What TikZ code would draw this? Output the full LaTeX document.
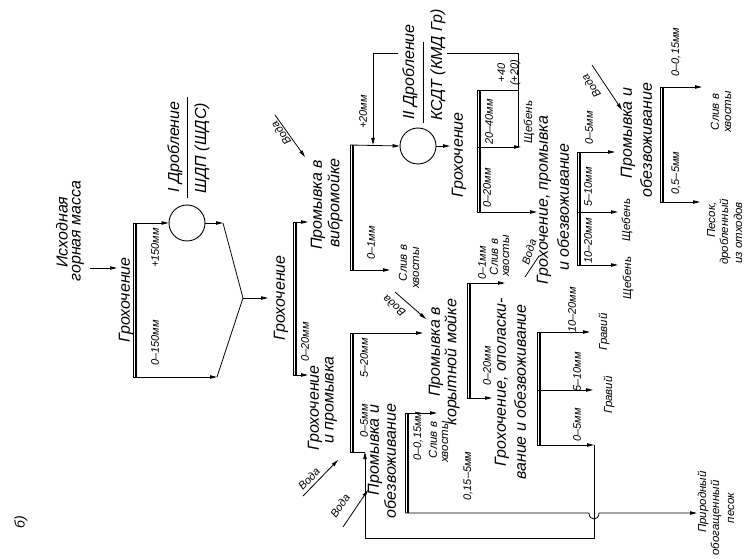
\documentclass[tikz,border=0pt]{standalone}
\usepackage{fontspec}
\setmainfont{Liberation Sans}
\usetikzlibrary{arrows.meta}
\tikzset{
  ln/.style={line width=0.8pt, line join=round},
  arr/.style={ln, -{Triangle[length=7pt,width=3.4pt]}},
  thk/.style={line width=2.2pt},
  op/.style={rotate=90, inner sep=0pt, font=\fontsize{16}{18}\selectfont\itshape},
  sz/.style={rotate=90, inner sep=0pt, font=\fontsize{11}{13}\selectfont\itshape},
  prod/.style={rotate=90, inner sep=0pt, font=\fontsize{11.5}{13}\selectfont\itshape},
  wl/.style={inner sep=0pt, font=\fontsize{11}{13}\selectfont\itshape},
  crusher/.style={circle, draw, line width=0.9pt, minimum size=36pt, inner sep=0pt},
}
\newcommand\screenline[3]{%
  \draw[ln] (#1,#2) -- (#1,#3);
  \draw[thk] (#1+3.2,#2) -- (#1+3.2,#3);}
\begin{document}
\begin{tikzpicture}[x=1pt,y=-1pt]
\useasboundingbox (0,0) rectangle (750,559);
% ---- label b)
\node[sz, font=\fontsize{14}{14}\selectfont\itshape] (lb) at (21,522) {б)};
% ---- source
\node[op] (src1) at (62,232) {Исходная};
\node[op] (src2) at (78,231) {горная масса};
\coordinate (srcA) at (90,268); \coordinate (srcB) at (117,268);
\draw[arr] (srcA) -- (srcB);
% ---- screen 1
\node[op] (g1) at (126,300) {Грохочение};
\screenline{133}{223}{377}
\coordinate (s1t) at (133,223); \coordinate (s1b) at (133,377);
\node[sz] (l150p) at (155,248) {+150мм};
\node[sz] (l150m) at (155,343) {0–150мм};
% ---- crusher I
\node[crusher] (c1) at (187,223) {};
\node[op] (d1a) at (175,147) {I Дробление};
\node[op] (d1b) at (202,148) {ШДП (ШДС)};
\coordinate (f1t) at (187,97); \coordinate (f1b) at (187,198);
\draw[ln] (f1t) -- (f1b);
\draw[arr] (s1t) -- (c1.west);
\coordinate (c1o) at (223,223); \coordinate (m1) at (243,298); \coordinate (s1o) at (217,377);
\draw[arr] (c1.east) -- (c1o);
\draw[ln] (c1o) -- (m1) -- (s1o);
\draw[arr] (s1b) -- (s1o);
\coordinate (g2in) at (268,298);
\draw[arr] (m1) -- (g2in);
% ---- screen 2
\node[op] (g2) at (281,298) {Грохочение};
\screenline{293}{222}{375}
\coordinate (s2t) at (293,222); \coordinate (s2b) at (293,375);
\coordinate (vin) at (308,222); \coordinate (gpin) at (308,375);
\draw[arr] (s2t) -- (vin);
\draw[arr] (s2b) -- (gpin);
\node[sz] (l020a) at (305,342) {0–20мм};
% ---- vibro washer
\node[op] (v1) at (318,205) {Промывка в};
\node[op] (v2) at (335,203) {вибромойке};
\coordinate (w1a) at (275,115); \coordinate (w1b) at (305,157);
\draw[arr] (w1a) -- (w1b);
\node[wl, rotate=126] (w1t) at (281,133) {Вода};
\screenline{350}{145}{270}
\coordinate (s3t) at (350,145); \coordinate (s3b) at (350,270);
\node[crusher] (c2) at (418,146) {};
\draw[arr] (s3t) -- (c2.west);
\node[sz] (l20p) at (363,112) {+20мм};
\coordinate (s3o) at (390,270);
\draw[arr] (s3b) -- (s3o);
\node[sz] (l01a) at (371,243) {0–1мм};
\node[prod] (sl1a) at (403,263) {Слив в};
\node[prod] (sl1b) at (416,268) {хвосты};
% ---- crusher II and return loop
\node[op] (d2a) at (410,72) {II Дробление};
\node[op] (d2b) at (438,65) {КСДТ (КМД Гр)};
\coordinate (f2t) at (423,42); \coordinate (f2b) at (423,123);
\draw[ln] (f2t) -- (f2b);
\coordinate (s4t) at (477,90); \coordinate (s4m) at (477,147); \coordinate (s4b) at (477,212);
\coordinate (r0) at (518,90); \coordinate (rA) at (518,147); \coordinate (rB) at (518,53);
\coordinate (rC) at (447,53); \coordinate (rD) at (398,53); \coordinate (rE) at (373,53); \coordinate (rF) at (373,145);
\draw[ln] (s4t) -- (r0);
\draw[ln] (rA) -- (rB) -- (rC);
\draw[arr] (rD) -- (rE) -- (rF);
\coordinate (g3in) at (450,146);
\draw[arr] (c2.east) -- (g3in);
% ---- screen after crusher II
\node[op] (g3) at (459,155) {Грохочение};
\screenline{477}{90}{212}
\coordinate (sh1) at (521,147);
\draw[arr] (s4m) -- (sh1);
\node[sz] (l2040) at (489,122) {20–40мм};
\node[sz] (l020b) at (487,188) {0–20мм};
\node[sz, align=center] (l40) at (509,73) {+40\\(+20)};
\node[prod] (sch1) at (529,122) {Щебень};
\coordinate (g6in) at (537,212);
\draw[arr] (s4b) -- (g6in);
% ---- screening, washing, dewatering
\node[op] (g6a) at (544,200) {Грохочение, промывка};
\node[op] (g6b) at (563,207) {и обезвоживание};
\coordinate (w6a) at (525,277); \coordinate (w6b) at (539,256);
\draw[ln] (w6a) -- (w6b);
\node[wl, rotate=72] (w6t) at (529,252) {Вода};
\screenline{577}{152}{265}
\coordinate (s6t) at (577,152); \coordinate (s6m) at (577,212); \coordinate (s6b) at (577,265);
\coordinate (p7in) at (615,152); \coordinate (sh2) at (618,212); \coordinate (sh3) at (618,265);
\draw[arr] (s6t) -- (p7in);
\draw[arr] (s6m) -- (sh2);
\draw[arr] (s6b) -- (sh3);
\node[sz] (l05a) at (589,128) {0–5мм};
\node[sz] (l510a) at (588,187) {5–10мм};
\node[sz] (l1020a) at (588,241) {10–20мм};
\node[prod] (sch2) at (627,220) {Щебень};
\node[prod] (sch3) at (628,278) {Щебень};
% ---- washing and dewatering (top right)
\node[op] (p7a) at (628,133) {Промывка и};
\node[op] (p7b) at (646,140) {обезвоживание};
\coordinate (w7a) at (592,65); \coordinate (w7b) at (622,110);
\draw[arr] (w7a) -- (w7b);
\node[wl, rotate=124] (w7t) at (591,86) {Вода};
\screenline{660}{87}{202}
\coordinate (s7t) at (660,87); \coordinate (s7b) at (660,202);
\coordinate (s7o1) at (702,87); \coordinate (s7o2) at (700,202);
\draw[arr] (s7t) -- (s7o1);
\draw[arr] (s7b) -- (s7o2);
\node[sz] (l0015b) at (676,52) {0–0,15мм};
\node[sz] (l0155b) at (676,173) {0,5–5мм};
\node[prod] (sl4a) at (715,112) {Слив в};
\node[prod] (sl4b) at (728,112) {хвосты};
\node[prod] (pes1) at (712,220) {Песок,};
\node[prod] (pes2) at (725,232) {дробленный};
\node[prod] (pes3) at (738,233) {из отходов};
% ---- screening and washing (lower)
\node[op] (gp1) at (315,408) {Грохочение};
\node[op] (gp2) at (331,400) {и промывка};
\coordinate (w3a) at (303,496); \coordinate (w3b) at (338,460);
\draw[arr] (w3a) -- (w3b);
\node[wl, rotate=46] (w3t) at (309,479) {Вода};
\screenline{350}{333}{452}
\coordinate (s5t) at (350,333); \coordinate (s5b) at (350,452); \coordinate (s5j) at (365,452);
\coordinate (kin) at (423,333);
\draw[arr] (s5t) -- (kin);
\draw[ln] (s5b) -- (s5j);
\node[sz] (l520) at (364,358) {5–20мм};
\node[sz] (l05b) at (364,421) {0–5мм};
% ---- washing and dewatering (lower)
\node[op] (p4a) at (375,450) {Промывка и};
\node[op] (p4b) at (390,461) {обезвоживание};
\coordinate (w4a) at (343,527); \coordinate (w4b) at (368,490);
\draw[arr] (w4a) -- (w4b);
\node[wl, rotate=56] (w4t) at (340,506) {Вода};
\screenline{405}{413}{513}
\coordinate (s8t) at (405,413); \coordinate (s8b) at (405,513);
\coordinate (s8o) at (437,413);
\draw[arr] (s8t) -- (s8o);
\node[sz] (l0015a) at (418,436) {0–0,15мм};
\node[prod] (sl2a) at (433,440) {Слив в};
\node[prod] (sl2b) at (445,442) {хвосты};
\node[sz] (l0155a) at (468,476) {0,15–5мм};
\coordinate (hopA) at (589,513); \coordinate (hopB) at (599,513); \coordinate (prin) at (697,513);
\draw[arr] (s8b) -- (hopA) .. controls (589,521) and (599,521) .. (hopB) -- (prin);
\node[prod] (pr1) at (703,502) {Природный};
\node[prod] (pr2) at (716,518) {обогащенный};
\node[prod] (pr3) at (731,508) {песок};
% ---- trough washer
\node[op] (k1) at (436,352) {Промывка в};
\node[op] (k2) at (452,362) {корытной мойке};
\coordinate (wka) at (395,292); \coordinate (wkb) at (426,319);
\draw[arr] (wka) -- (wkb);
\node[wl, rotate=140] (wkt) at (394,306) {Вода};
\screenline{467}{283}{398}
\coordinate (s9t) at (467,283); \coordinate (s9b) at (467,398);
\coordinate (s9o) at (505,283); \coordinate (g8in) at (492,398);
\draw[arr] (s9t) -- (s9o);
\draw[arr] (s9b) -- (g8in);
\node[sz] (l01b) at (482,263) {0–1мм};
\node[sz] (l020c) at (487,366) {0–20мм};
\node[prod] (sl3a) at (494,257) {Слив в};
\node[prod] (sl3b) at (506,256) {хвосты};
% ---- screening, rinsing, dewatering
\node[op] (g8a) at (502,382) {Грохочение, ополаски-};
\node[op] (g8b) at (520,392) {вание и обезвоживание};
\screenline{537}{332}{445}
\coordinate (s10t) at (537,332); \coordinate (s10m) at (537,390); \coordinate (s10b) at (537,445);
\coordinate (gr1in) at (590,332); \coordinate (gr2in) at (593,390);
\coordinate (rt1) at (594,445); \coordinate (rt2) at (594,538); \coordinate (rt3) at (365,538);
\draw[arr] (s10t) -- (gr1in);
\draw[arr] (s10m) -- (gr2in);
\draw[arr] (s10b) -- (rt1);
\draw[arr] (rt1) -- (rt2) -- (rt3) -- (s5j);
\node[sz] (l1020b) at (572,310) {10–20мм};
\node[sz] (l510b) at (577,372) {5–10мм};
\node[sz] (l05c) at (577,425) {0–5мм};
\node[prod] (gr1) at (604,332) {Гравий};
\node[prod] (gr2) at (609,395) {Гравий};
\end{tikzpicture}
\end{document}
